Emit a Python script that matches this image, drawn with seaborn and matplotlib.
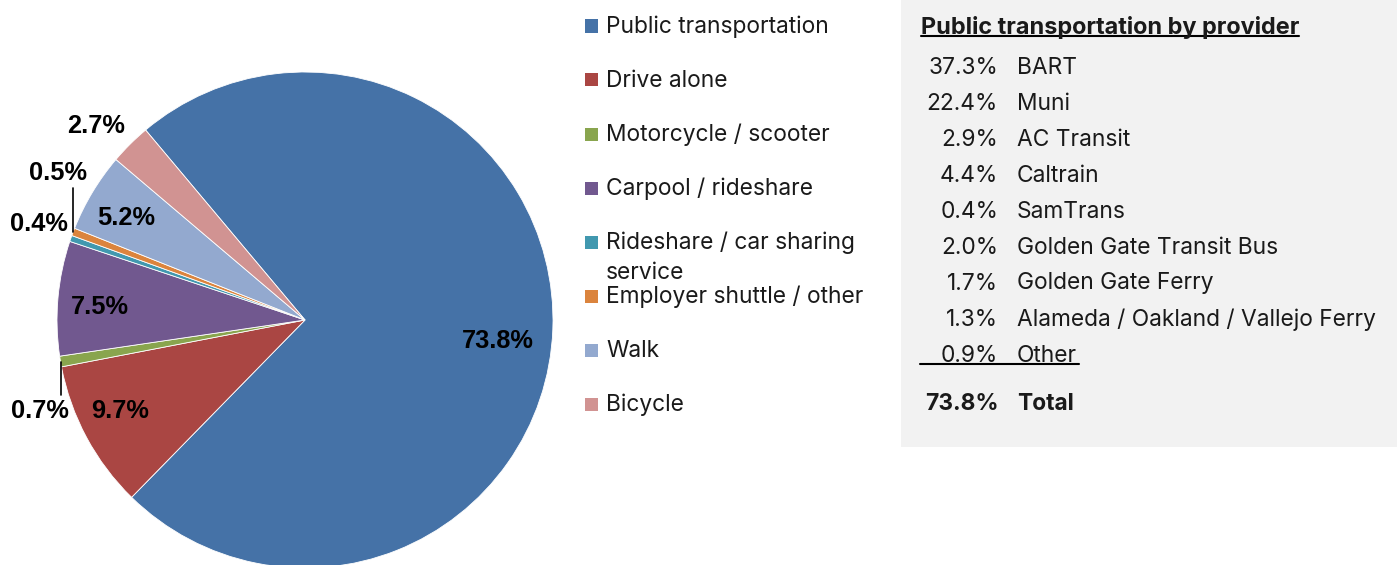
import matplotlib
matplotlib.use("Agg")
import matplotlib.pyplot as plt
import seaborn as sns
import numpy as np
from matplotlib.patches import Rectangle

sns.set_theme(style="white")
plt.rcParams['font.family'] = ['Inter', 'DejaVu Sans']

# ---- data ----
categories = ["Public transportation", "Drive alone", "Motorcycle / scooter",
              "Carpool / rideshare", "Rideshare / car sharing\nservice",
              "Employer shuttle / other", "Walk", "Bicycle"]
shares = [73.8, 9.7, 0.7, 7.5, 0.4, 0.5, 5.2, 2.7]
share_labels = ["73.8%", "9.7%", "0.7%", "7.5%", "0.4%", "0.5%", "5.2%", "2.7%"]

provider_pct = ["37.3%", "22.4%", "2.9%", "4.4%", "0.4%", "2.0%", "1.7%", "1.3%", "0.9%"]
provider_names = ["BART", "Muni", "AC Transit", "Caltrain", "SamTrans",
                  "Golden Gate Transit Bus", "Golden Gate Ferry",
                  "Alameda / Oakland / Vallejo Ferry", "Other"]
total_pct = "73.8%"
table_title = "Public transportation by provider"

# ---- style ----
colors = ["#4572A7", "#AA4643", "#89A54E", "#71588F", "#4198AF", "#DB843D", "#93A9CF", "#D19392"]
# label placement: (radius factor, angle tweak deg, leader line)
label_pos = [(0.78, -4, None), (0.83, -2, None), (1.13, 9.4, "down"), (0.83, 1.4, None),
             (1.14, -0.6, None), (1.16, -10, "up"), (0.83, 1.2, None), (1.15, 2.3, None)]
TXT = "#1a1a1a"
FS = 16.4
LINE_STEP = 30  # px between wrapped legend lines

W, H = 1397, 565
fig = plt.figure(figsize=(W / 100, H / 100), dpi=100)

# pie axes (pixel geometry: center 305,320 radius 248)
cx, cy, R = 305, 320, 248
ax = fig.add_axes([(cx - R) / W, (H - cy - R) / H, 2 * R / W, 2 * R / H])
wedges, _ = ax.pie(shares, colors=colors, startangle=130, counterclock=False,
                   radius=1, wedgeprops=dict(edgecolor="white", linewidth=0.6))
ax.set_xlim(-1, 1)
ax.set_ylim(-1, 1)
ax.set_aspect("equal")
ax.axis("off")

for w, lab, (rf, dth, leader) in zip(wedges, share_labels, label_pos):
    mid = np.deg2rad((w.theta1 + w.theta2) / 2)
    ang = mid + np.deg2rad(dth)
    x, y = rf * np.cos(ang), rf * np.sin(ang)
    ax.text(x, y, lab, ha="center", va="center", fontsize=18.3, fontweight="bold",
            family=["Liberation Sans", "DejaVu Sans"], color="black", clip_on=False)
    if leader is not None:
        rx, ry = np.cos(mid), np.sin(mid)
        if leader == "up":
            ax.plot([rx, rx], [ry, y - 0.06], color="black", lw=1.2, clip_on=False)
        else:
            ax.plot([rx, rx], [ry, y + 0.065], color="black", lw=1.2, clip_on=False)

# legend (manual)
def fx(px):
    return px / W

def fy(py):
    return (H - py) / H

leg_y0, leg_step = 26, 54
for i, (cat, col) in enumerate(zip(categories, colors)):
    yc = leg_y0 + i * leg_step
    fig.patches.append(Rectangle((fx(585), fy(yc + 6.5)), 13 / W, 13 / H,
                                 transform=fig.transFigure, facecolor=col, edgecolor="none"))
    lines = cat.split("\n")
    for j, line in enumerate(lines):
        fig.text(fx(606), fy(yc + 7 + j * LINE_STEP), line, ha="left", va="baseline",
                 fontsize=FS, color=TXT)

# gray table box
fig.patches.append(Rectangle((fx(901), fy(447)), (W - 901) / W, 447 / H,
                             transform=fig.transFigure, facecolor="#F2F2F2", edgecolor="none"))

title = fig.text(fx(921), fy(25), table_title, ha="left", va="center_baseline",
                 fontsize=16.9, fontweight="bold", color=TXT)
row_y0, row_step = 65, 36
for i, (p, n) in enumerate(zip(provider_pct, provider_names)):
    yc = row_y0 + i * row_step
    fig.text(fx(998), fy(yc), p, ha="right", va="center_baseline", fontsize=FS, color=TXT)
    fig.text(fx(1017), fy(yc), n, ha="left", va="center_baseline", fontsize=FS, color=TXT)
fig.text(fx(999), fy(401), total_pct, ha="right", va="center_baseline", fontsize=FS,
         fontweight="bold", color=TXT)
fig.text(fx(1017), fy(401), "Total", ha="left", va="center_baseline", fontsize=FS,
         fontweight="bold", color=TXT)

# underlines
fig.canvas.draw()
bb = title.get_window_extent()
fig.add_artist(plt.Line2D([bb.x0 / W, bb.x1 / W], [fy(36), fy(36)],
                          transform=fig.transFigure, color="black", lw=1.5))
other_y = row_y0 + (len(provider_names) - 1) * row_step + 11
fig.add_artist(plt.Line2D([fx(920), fx(1079)], [fy(other_y), fy(other_y)],
                          transform=fig.transFigure, color="black", lw=1.5))

fig.savefig("out.png", dpi=100)
